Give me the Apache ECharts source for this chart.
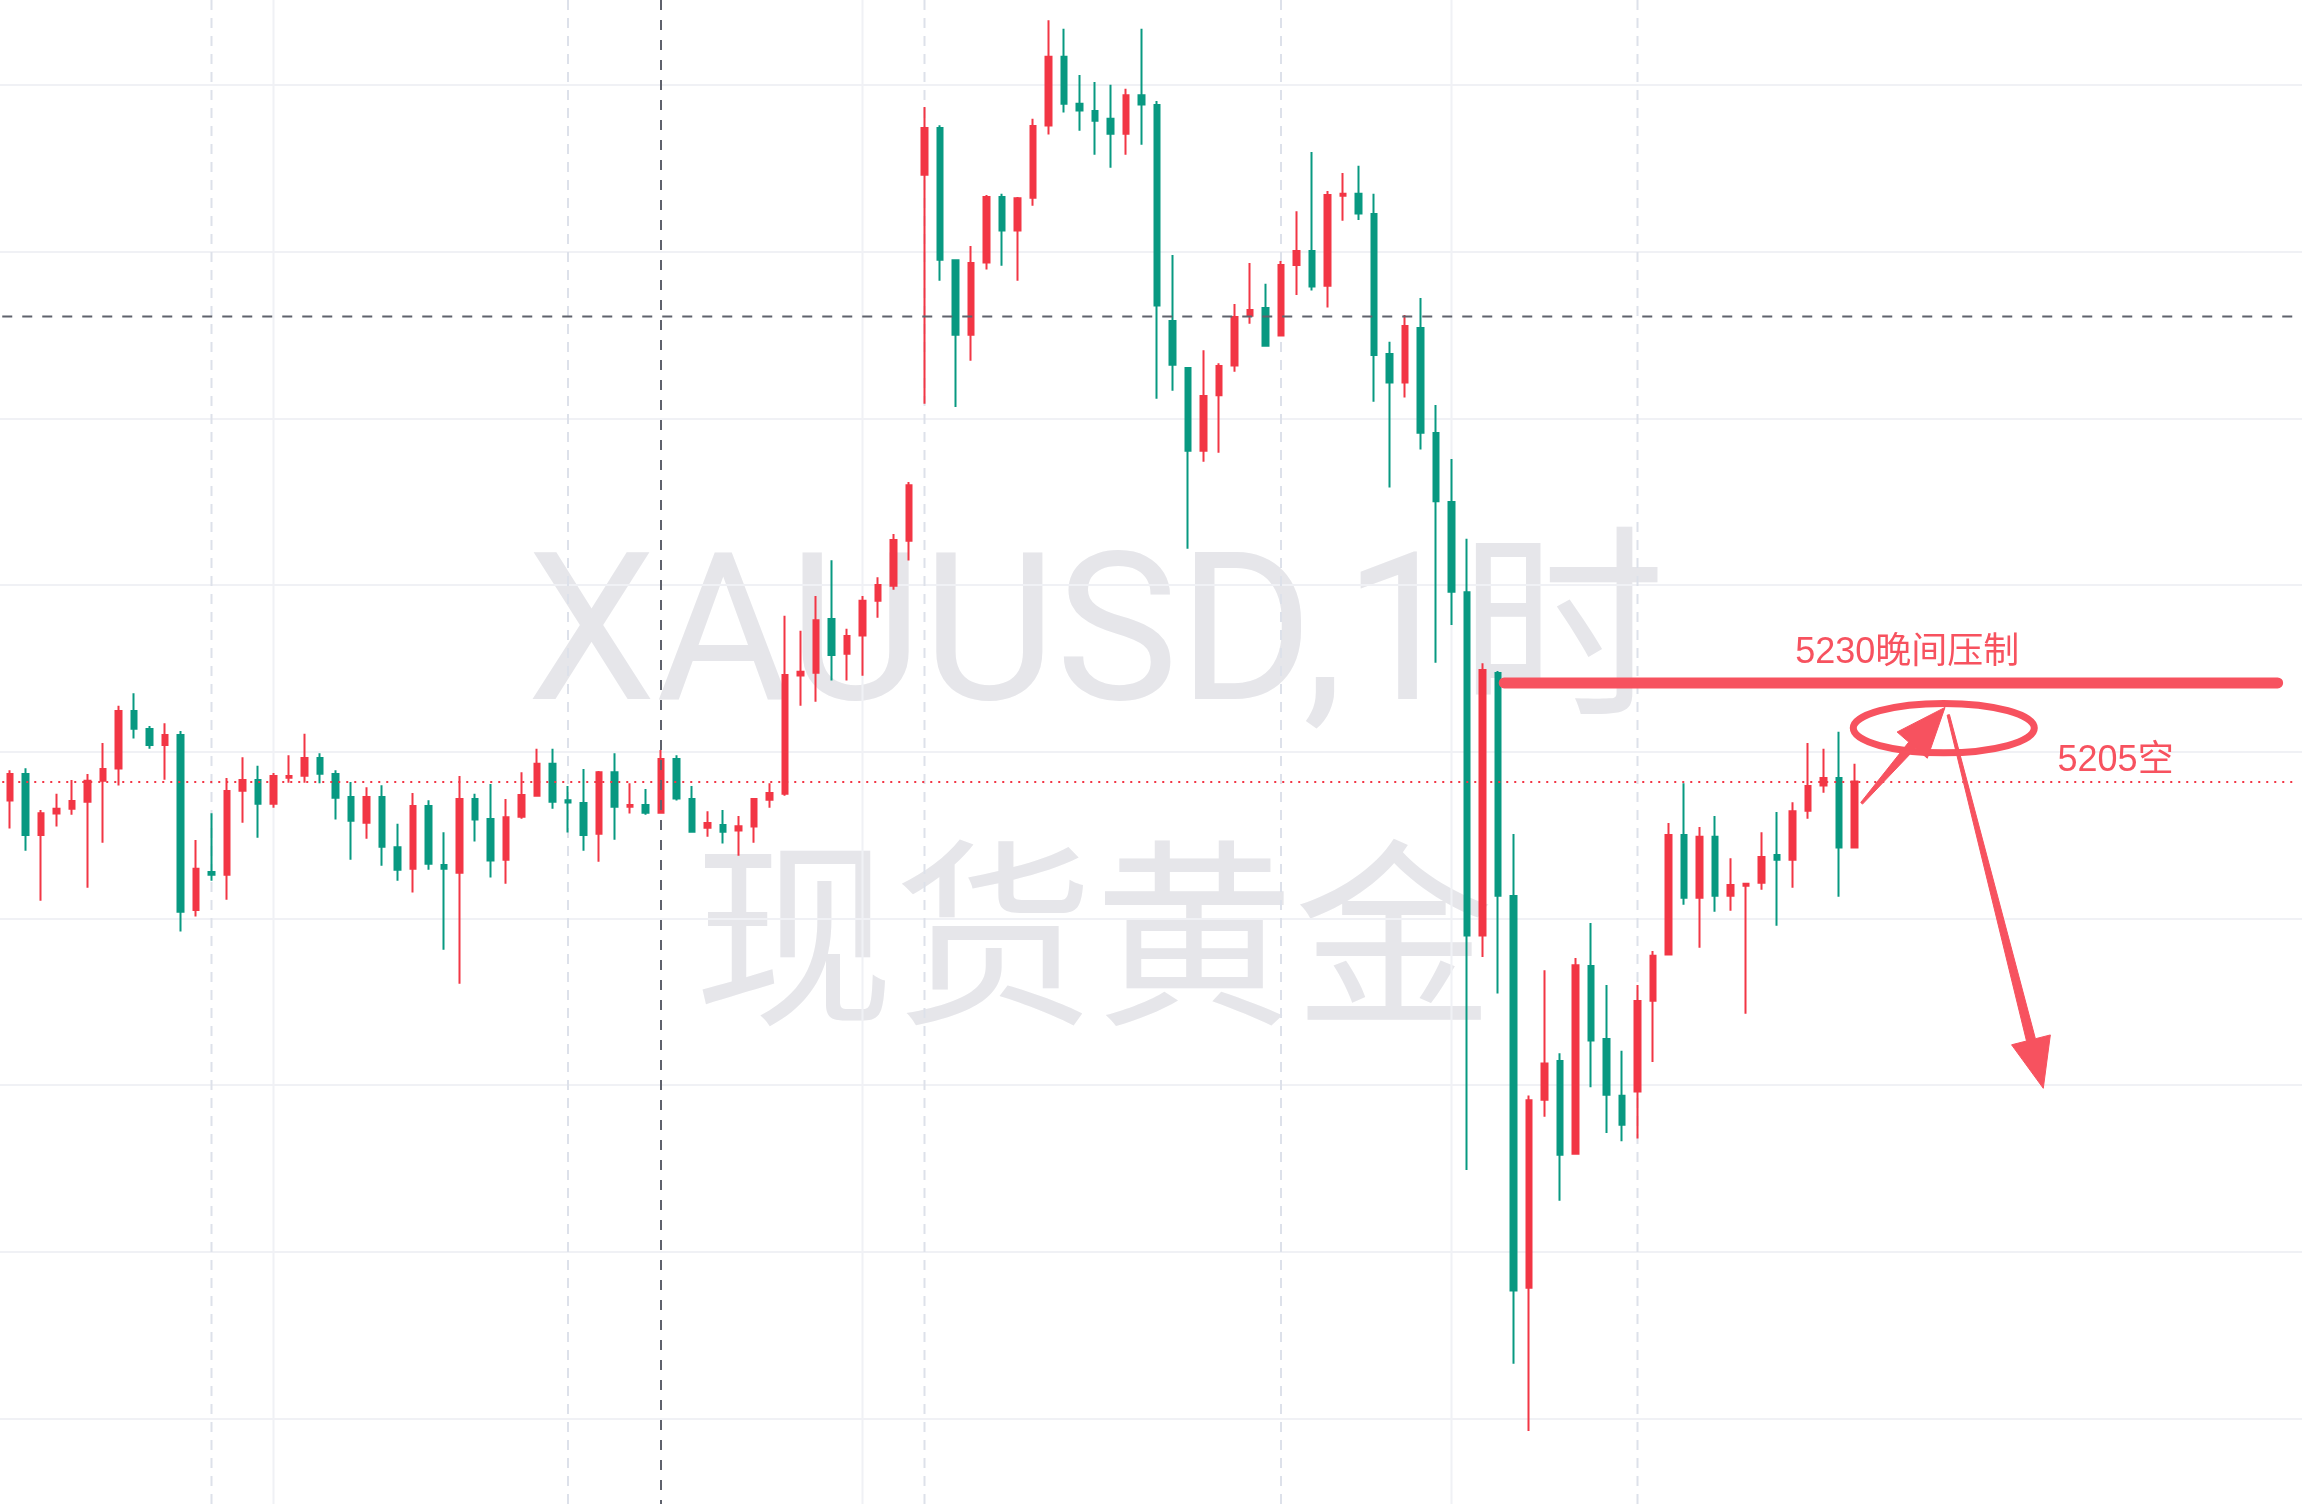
<!DOCTYPE html>
<html>
<head>
<meta charset="utf-8">
<title>XAUUSD 1H</title>
<script src="https://cdn.jsdelivr.net/npm/echarts@6/dist/echarts.min.js"></script>
<style>
  html, body { margin: 0; padding: 0; background: #ffffff; }
  #chart { width: 2302px; height: 1504px; }
</style>
</head>
<body>
<div id="chart"></div>
<script>
// ---- Hourly XAUUSD candles (open / close / low / high) ----
const opens = [
  5200.2, 5206.9, 5191.5, 5196.9, 5198.1, 5199.9, 5205.2, 5208.3, 5222.9, 5218.3,
  5214.3, 5216.8, 5172.5, 5182.1, 5181.4, 5202.7, 5205.4, 5199.4, 5206.0, 5206.5,
  5211.0, 5206.9, 5201.1, 5194.6, 5201.1, 5188.4, 5182.9, 5198.8, 5183.9, 5181.9,
  5200.6, 5195.5, 5185.2, 5196.1, 5201.4, 5209.5, 5200.3, 5199.6, 5191.8, 5207.4,
  5198.6, 5199.1, 5197.1, 5210.7, 5200.6, 5193.3, 5194.0, 5192.6, 5193.6, 5200.4,
  5201.9, 5231.9, 5232.6, 5246.2, 5237.4, 5242.0, 5250.8, 5254.6, 5266.0, 5358.7,
  5370.6, 5337.1, 5318.2, 5336.5, 5353.1, 5344.6, 5352.9, 5371.2, 5388.6, 5376.7,
  5374.9, 5372.9, 5369.1, 5378.9, 5376.4, 5321.7, 5309.8, 5288.8, 5302.9, 5310.4,
  5323.0, 5325.0, 5318.0, 5335.9, 5339.4, 5330.6, 5353.4, 5353.9, 5348.8, 5313.3,
  5306.1, 5319.9, 5293.3, 5275.8, 5253.0, 5166.0, 5232.5, 5176.0, 5076.8, 5124.4,
  5134.2, 5110.7, 5158.3, 5139.8, 5125.4, 5126.5, 5149.5, 5161.2, 5191.5, 5175.6,
  5191.0, 5176.1, 5178.6, 5179.4, 5186.4, 5185.2, 5197.6, 5204.0, 5205.9, 5188.3
];
const closes = [
  5206.9, 5191.5, 5197.0, 5198.1, 5200.1, 5205.2, 5208.2, 5222.9, 5218.4, 5214.3,
  5216.8, 5172.0, 5182.9, 5181.4, 5202.6, 5205.4, 5199.4, 5206.4, 5206.4, 5211.0,
  5207.0, 5200.9, 5195.1, 5201.1, 5188.5, 5182.7, 5198.8, 5184.2, 5182.9, 5200.6,
  5195.4, 5185.0, 5196.0, 5201.6, 5209.5, 5199.9, 5199.7, 5191.5, 5207.4, 5198.6,
  5199.1, 5197.1, 5210.7, 5200.7, 5192.3, 5194.5, 5192.3, 5193.7, 5200.6, 5202.1,
  5232.0, 5232.8, 5245.9, 5237.1, 5241.9, 5250.8, 5254.8, 5266.2, 5280.1, 5370.6,
  5337.2, 5318.2, 5336.4, 5353.1, 5344.6, 5352.8, 5371.1, 5388.6, 5376.7, 5375.0,
  5372.4, 5369.1, 5378.9, 5376.5, 5325.6, 5310.6, 5288.8, 5302.7, 5310.3, 5322.7,
  5324.5, 5315.4, 5335.9, 5339.4, 5330.4, 5353.6, 5353.9, 5348.9, 5313.1, 5306.1,
  5320.4, 5293.4, 5276.0, 5253.1, 5166.0, 5233.3, 5176.1, 5076.1, 5124.3, 5133.6,
  5110.5, 5158.5, 5139.4, 5125.7, 5118.1, 5149.4, 5160.9, 5191.5, 5175.6, 5191.0,
  5176.1, 5178.8, 5179.1, 5185.9, 5185.2, 5197.5, 5203.9, 5205.9, 5188.3, 5205.0
];
const lows = [
  5193.1, 5187.5, 5174.8, 5193.6, 5196.6, 5178.1, 5189.5, 5204.0, 5215.9, 5213.3,
  5205.5, 5167.0, 5170.8, 5179.9, 5175.1, 5194.6, 5190.8, 5198.4, 5204.7, 5204.7,
  5204.6, 5195.4, 5185.2, 5190.5, 5183.7, 5179.9, 5176.9, 5182.7, 5162.4, 5153.8,
  5189.8, 5180.7, 5179.1, 5195.6, 5201.4, 5198.1, 5192.1, 5187.5, 5184.7, 5190.3,
  5196.9, 5196.6, 5197.0, 5200.2, 5192.1, 5191.0, 5189.3, 5186.2, 5189.5, 5198.4,
  5201.4, 5224.2, 5225.2, 5230.6, 5230.6, 5231.8, 5246.5, 5253.6, 5261.0, 5300.7,
  5331.9, 5299.9, 5311.6, 5334.7, 5335.7, 5331.9, 5350.9, 5368.9, 5374.5, 5369.9,
  5363.8, 5360.5, 5363.8, 5366.3, 5302.0, 5304.0, 5264.0, 5286.0, 5288.3, 5308.8,
  5321.0, 5315.4, 5318.0, 5328.3, 5329.4, 5325.1, 5347.1, 5347.3, 5301.2, 5279.5,
  5302.3, 5289.1, 5235.1, 5244.7, 5106.6, 5160.6, 5151.3, 5057.5, 5040.5, 5120.1,
  5098.8, 5110.5, 5127.6, 5116.0, 5113.9, 5114.6, 5134.0, 5161.2, 5173.8, 5162.9,
  5172.0, 5172.3, 5146.2, 5177.6, 5168.5, 5178.1, 5195.6, 5202.2, 5175.8, 5188.3
];
const highs = [
  5207.9, 5208.4, 5197.8, 5201.9, 5205.4, 5206.9, 5214.8, 5224.2, 5227.4, 5219.1,
  5219.8, 5217.8, 5190.2, 5197.0, 5205.9, 5211.2, 5209.0, 5207.2, 5211.7, 5217.1,
  5212.2, 5207.9, 5204.9, 5203.6, 5204.1, 5194.3, 5202.1, 5200.3, 5192.2, 5206.4,
  5201.9, 5204.4, 5200.6, 5207.4, 5213.3, 5213.3, 5203.9, 5208.2, 5207.7, 5212.2,
  5204.6, 5203.1, 5213.0, 5211.7, 5203.9, 5197.5, 5197.8, 5196.3, 5200.6, 5204.6,
  5247.0, 5243.2, 5252.0, 5261.1, 5243.7, 5252.0, 5256.8, 5267.7, 5280.9, 5375.9,
  5371.3, 5337.1, 5340.7, 5353.6, 5353.9, 5353.1, 5372.9, 5397.9, 5395.7, 5384.0,
  5382.2, 5381.5, 5380.5, 5395.7, 5377.4, 5338.4, 5309.8, 5314.3, 5311.0, 5326.0,
  5336.4, 5331.1, 5336.9, 5349.5, 5364.5, 5354.6, 5359.2, 5361.0, 5353.9, 5316.4,
  5323.2, 5327.5, 5300.4, 5286.7, 5266.5, 5235.0, 5233.0, 5191.7, 5125.5, 5157.2,
  5136.2, 5160.3, 5169.2, 5153.5, 5136.8, 5153.5, 5162.1, 5194.5, 5204.6, 5193.5,
  5196.3, 5185.6, 5179.1, 5192.2, 5197.3, 5199.8, 5214.8, 5213.3, 5217.6, 5209.5
];

// Visible price window and empty bar slots kept to the right of the last candle
const priceMin = 5022;
const priceMax = 5403;
const futureSlots = 28;

// Bars that carry a session break (dashed) and a time-scale grid line (solid)
const sessionBreaks = [13, 36, 59, 82, 105];
const timeGridBars = [17, 55, 93];
// Number of horizontal price-grid bands
const priceGridBands = 8;

// Crosshair: bar index and price
const crosshair = [[42, 5322.8]];

// Drawings: resistance line [fromBar, toBar, price], its caption anchor, ellipse box, arrows, notes
const resistanceLines = [[96.4, 146.3, 5230]];
const resistanceCaptions = [[122.4, 5230, '5230晚间压制']];
const ellipses = [[118.92, 130.6, 5224.8, 5212.3]];
const arrows = [
  [119.46, 5199.5, 124.84, 5223.8],
  [125.05, 5221.9, 131.18, 5127.3]
];
const notes = [[132.1, 5210.2, '5205空']];

// Watermark lines
const watermark = ['XAUUSD,1时', '现货黄金'];

// Hourly category labels (not displayed)
const categories = [];
(function () {
  const start = Date.UTC(2026, 0, 26, 1, 0, 0);
  for (let i = 0; i < opens.length + futureSlots; i++) {
    const d = new Date(start + i * 3600 * 1000);
    const mm = String(d.getUTCMonth() + 1).padStart(2, '0');
    const dd = String(d.getUTCDate()).padStart(2, '0');
    const hh = String(d.getUTCHours()).padStart(2, '0');
    categories.push(mm + '-' + dd + ' ' + hh + ':00');
  }
})();

const UP_COLOR = '#F23645';
const DOWN_COLOR = '#089981';
const DRAW_COLOR = '#F7525F';
const TEXT_FONT = '"Liberation Sans", "Noto Sans CJK SC", sans-serif';
const MARK_FONT = 'Roboto, "Noto Sans CJK SC", sans-serif';

const candleData = opens.map((o, i) => [o, closes[i], lows[i], highs[i]]);
const lastClose = closes[closes.length - 1];

function verticalLine(style) {
  return function (params, api) {
    const x = api.coord([api.value(0), priceMin])[0];
    const cs = params.coordSys;
    return {
      type: 'line',
      shape: { x1: x, y1: cs.y, x2: x, y2: cs.y + cs.height },
      style: style
    };
  };
}

function arrowPolygon(t, p) {
  const tailHalf = 1.2, shaftHalf = 4.6, headHalf = 20, headLen = 50;
  const dx = p[0] - t[0], dy = p[1] - t[1];
  const len = Math.hypot(dx, dy);
  const ux = dx / len, uy = dy / len;
  const nx = -uy, ny = ux;
  const bx = p[0] - ux * headLen, by = p[1] - uy * headLen;
  return [
    [t[0] + nx * tailHalf, t[1] + ny * tailHalf],
    [bx + nx * shaftHalf, by + ny * shaftHalf],
    [bx + nx * headHalf, by + ny * headHalf],
    [p[0], p[1]],
    [bx - nx * headHalf, by - ny * headHalf],
    [bx - nx * shaftHalf, by - ny * shaftHalf],
    [t[0] - nx * tailHalf, t[1] - ny * tailHalf]
  ];
}

const chart = echarts.init(document.getElementById('chart'), null, { renderer: 'canvas' });

const option = {
  animation: false,
  backgroundColor: '#ffffff',
  grid: [
    { left: 2.25, right: 5.75, top: 0, bottom: 0 },
    { left: 0, right: 0, top: 85, bottom: 85.7 }
  ],
  xAxis: [
    { type: 'category', gridIndex: 0, data: categories, boundaryGap: true, show: false },
    { type: 'value', gridIndex: 0, min: -0.5, max: categories.length - 0.5, show: false },
    { type: 'value', gridIndex: 1, min: 0, max: 1, show: false }
  ],
  yAxis: [
    { type: 'value', gridIndex: 0, min: priceMin, max: priceMax, show: false, splitLine: { show: false } },
    {
      type: 'value', gridIndex: 1, min: 0, max: priceGridBands, interval: 1,
      axisLine: { show: false }, axisTick: { show: false }, axisLabel: { show: false },
      splitLine: { show: true, lineStyle: { color: '#F0F1F5', width: 2 } }
    }
  ],
  graphic: [
    {
      type: 'text', x: 1096, y: 647, z: -1, silent: true,
      style: {
        text: watermark[0], font: '206px ' + MARK_FONT, fill: '#E6E6EA',
        align: 'center', verticalAlign: 'middle'
      }
    },
    {
      type: 'text', x: 1094, y: 954, z: -1, silent: true,
      style: {
        text: watermark[1], font: '200px ' + TEXT_FONT, fill: '#E6E6EA',
        align: 'center', verticalAlign: 'middle'
      }
    }
  ],
  series: [
    {
      name: 'sessionBreaks',
      type: 'custom',
      xAxisIndex: 1, yAxisIndex: 0, z: 1, silent: true,
      data: sessionBreaks.map(i => [i, priceMin]),
      renderItem: verticalLine({ stroke: '#DDE1EA', lineWidth: 2, lineDash: [10, 8] })
    },
    {
      name: 'timeGrid',
      type: 'custom',
      xAxisIndex: 1, yAxisIndex: 0, z: 1, silent: true,
      data: timeGridBars.map(i => [i, priceMin]),
      renderItem: verticalLine({ stroke: '#F0F1F5', lineWidth: 2 })
    },
    {
      name: 'XAUUSD',
      type: 'candlestick',
      xAxisIndex: 0, yAxisIndex: 0, z: 3,
      barWidth: 6,
      data: candleData,
      itemStyle: {
        color: UP_COLOR, color0: DOWN_COLOR,
        borderColor: UP_COLOR, borderColor0: DOWN_COLOR,
        borderWidth: 2
      },
      markLine: {
        silent: true, symbol: 'none', animation: false,
        label: { show: false },
        lineStyle: { color: UP_COLOR, width: 2, type: [2, 6] },
        data: [{ yAxis: lastClose }]
      }
    },
    {
      name: 'crosshair',
      type: 'custom',
      xAxisIndex: 1, yAxisIndex: 0, z: 4, silent: true,
      data: crosshair,
      renderItem: function (params, api) {
        const pt = api.coord([api.value(0), api.value(1)]);
        const cs = params.coordSys;
        const style = { stroke: '#5F626C', lineWidth: 2, lineDash: [10, 10] };
        return {
          type: 'group',
          children: [
            { type: 'line', shape: { x1: pt[0], y1: cs.y, x2: pt[0], y2: cs.y + cs.height }, style: style },
            { type: 'line', shape: { x1: cs.x, y1: pt[1], x2: cs.x + cs.width, y2: pt[1] }, style: style }
          ]
        };
      }
    },
    {
      name: 'resistance',
      type: 'custom',
      xAxisIndex: 1, yAxisIndex: 0, z: 5, silent: true,
      data: resistanceLines,
      renderItem: function (params, api) {
        const a = api.coord([api.value(0), api.value(2)]);
        const b = api.coord([api.value(1), api.value(2)]);
        return {
          type: 'line',
          shape: { x1: a[0], y1: a[1], x2: b[0], y2: b[1] },
          style: { stroke: DRAW_COLOR, lineWidth: 11, lineCap: 'round' }
        };
      }
    },
    {
      name: 'resistanceCaption',
      type: 'custom',
      xAxisIndex: 1, yAxisIndex: 0, z: 5, silent: true,
      data: resistanceCaptions,
      renderItem: function (params, api) {
        const p = api.coord([api.value(0), api.value(1)]);
        return {
          type: 'text',
          style: {
            text: resistanceCaptions[params.dataIndex][2],
            x: p[0], y: p[1] - 30,
            fill: DRAW_COLOR, font: '36px ' + TEXT_FONT,
            align: 'center', verticalAlign: 'middle'
          }
        };
      }
    },
    {
      name: 'ellipse',
      type: 'custom',
      xAxisIndex: 1, yAxisIndex: 0, z: 5, silent: true,
      data: ellipses,
      renderItem: function (params, api) {
        const a = api.coord([api.value(0), api.value(2)]);
        const b = api.coord([api.value(1), api.value(3)]);
        return {
          type: 'ellipse',
          shape: {
            cx: (a[0] + b[0]) / 2, cy: (a[1] + b[1]) / 2,
            rx: Math.abs(b[0] - a[0]) / 2, ry: Math.abs(b[1] - a[1]) / 2
          },
          style: { fill: 'none', stroke: DRAW_COLOR, lineWidth: 7 }
        };
      }
    },
    {
      name: 'arrows',
      type: 'custom',
      xAxisIndex: 1, yAxisIndex: 0, z: 5, silent: true,
      data: arrows,
      renderItem: function (params, api) {
        const t = api.coord([api.value(0), api.value(1)]);
        const p = api.coord([api.value(2), api.value(3)]);
        return {
          type: 'polygon',
          shape: { points: arrowPolygon(t, p) },
          style: { fill: DRAW_COLOR, stroke: DRAW_COLOR, lineWidth: 1, lineJoin: 'round' }
        };
      }
    },
    {
      name: 'notes',
      type: 'custom',
      xAxisIndex: 1, yAxisIndex: 0, z: 5, silent: true,
      data: notes,
      renderItem: function (params, api) {
        const p = api.coord([api.value(0), api.value(1)]);
        return {
          type: 'text',
          style: {
            text: notes[params.dataIndex][2],
            x: p[0], y: p[1],
            fill: DRAW_COLOR, font: '36px ' + TEXT_FONT,
            align: 'left', verticalAlign: 'middle'
          }
        };
      }
    }
  ]
};

chart.setOption(option);
</script>
</body>
</html>
